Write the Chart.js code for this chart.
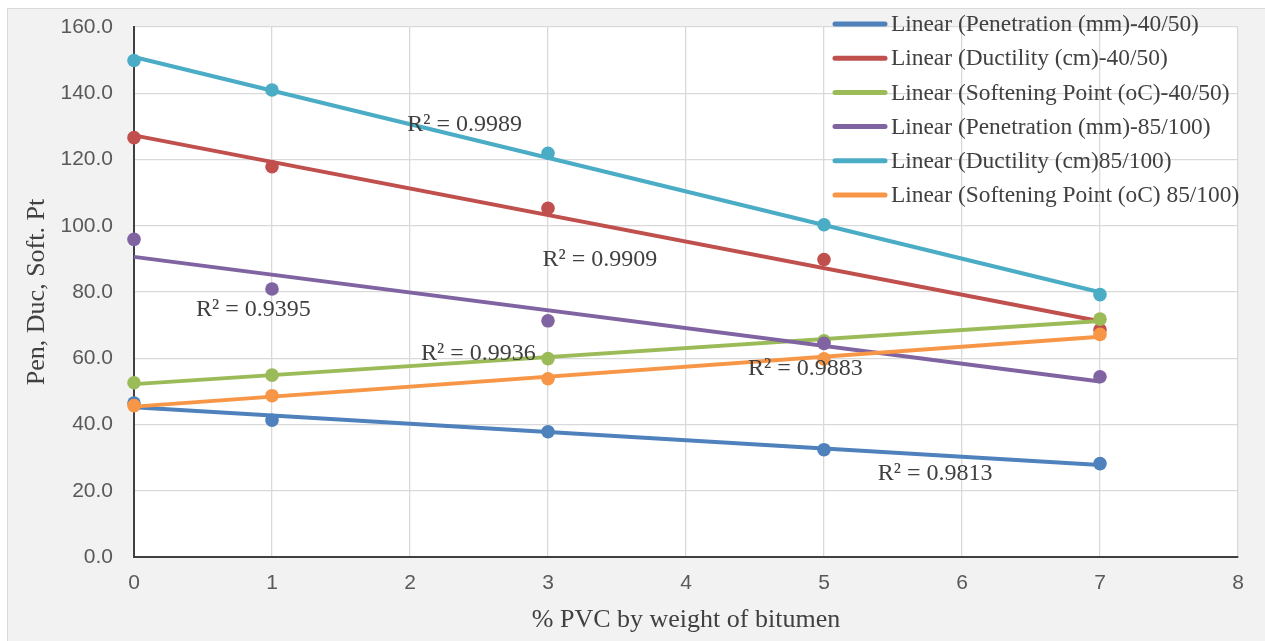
<!DOCTYPE html>
<html>
<head>
<meta charset="utf-8">
<title>PVC modified bitumen</title>
<script src="https://cdn.jsdelivr.net/npm/chart.js@4.4.1/dist/chart.umd.min.js"></script>
<style>
html, body { margin: 0; padding: 0; background: #fff; }
canvas { display: block; }
</style>
</head>
<body>
<canvas id="pvcChart" width="1265" height="641"></canvas>
<script>
// % PVC by weight of bitumen
const pvcContent = [0, 1, 3, 5, 7];

const penetration4050 = [46.5, 41.3, 37.8, 32.4, 28.2];
const ductility4050 = [126.6, 117.8, 105.3, 89.8, 68.6];
const softening4050 = [52.6, 54.9, 59.9, 65.3, 71.8];
const penetration85100 = [95.9, 80.9, 71.3, 64.5, 54.4];
const ductility85100 = [149.9, 141.0, 121.9, 100.3, 79.2];
const softening85100 = [45.7, 48.7, 53.8, 59.8, 67.2];

const seriesValues = [penetration4050, ductility4050, softening4050, penetration85100, ductility85100, softening85100];
const seriesNames = [
    'Linear (Penetration (mm)-40/50)',
    'Linear (Ductility (cm)-40/50)',
    'Linear (Softening Point (oC)-40/50)',
    'Linear (Penetration (mm)-85/100)',
    'Linear (Ductility (cm)85/100)',
    'Linear (Softening Point (oC) 85/100)',
];
const rSquaredLabels = ['R² = 0.9813', 'R² = 0.9909', 'R² = 0.9936', 'R² = 0.9395', 'R² = 0.9989', 'R² = 0.9883'];

const xTickValues = [0, 1, 2, 3, 4, 5, 6, 7, 8];
const yTickValues = [0, 20, 40, 60, 80, 100, 120, 140, 160];

const seriesColors = ['#4F81BD', '#C0504D', '#9BBB59', '#8064A2', '#4BACC6', '#F79646'];
// where each R² label sits, in axis units (left edge, vertical middle)
const rSquaredAnchorX = [5.39, 2.96, 2.08, 0.45, 1.98, 4.45];
const rSquaredAnchorY = [25.0, 89.7, 61.3, 74.6, 130.4, 56.7];

function linearFit(xs, ys) {
    const n = xs.length;
    const mx = xs.reduce((a, b) => a + b, 0) / n;
    const my = ys.reduce((a, b) => a + b, 0) / n;
    let sxy = 0, sxx = 0;
    for (let i = 0; i < n; i++) {
        sxy += (xs[i] - mx) * (ys[i] - my);
        sxx += (xs[i] - mx) * (xs[i] - mx);
    }
    const slope = sxy / sxx;
    return { slope, intercept: my - slope * mx };
}

const xFirst = Math.min(...pvcContent);
const xLast = Math.max(...pvcContent);

const datasets = [];
seriesValues.forEach((values, i) => {
    datasets.push({
        label: seriesNames[i].replace('Linear (', '').replace(/\)$/, ''),
        data: pvcContent.map((x, k) => ({ x, y: values[k] })),
        showLine: false,
        pointRadius: 6.8,
        pointBackgroundColor: seriesColors[i],
        pointBorderColor: seriesColors[i],
        pointBorderWidth: 0,
        clip: false,
        order: 5 - i,
    });
});
seriesValues.forEach((values, i) => {
    const fit = linearFit(pvcContent, values);
    datasets.push({
        label: seriesNames[i],
        data: [xFirst, xLast].map(x => ({ x, y: fit.intercept + fit.slope * x })),
        showLine: true,
        borderColor: seriesColors[i],
        borderWidth: 4,
        pointRadius: 0,
        clip: false,
        order: 20 - i,
    });
});

const chartBackdrop = {
    id: 'chartBackdrop',
    beforeDraw(chart) {
        const { ctx, width, height, chartArea } = chart;
        ctx.save();
        ctx.fillStyle = '#ffffff';
        ctx.fillRect(0, 0, width, height);
        ctx.fillStyle = '#f2f2f2';
        ctx.fillRect(7.5, 8.5, width, height);
        ctx.strokeStyle = '#d9d9d9';
        ctx.lineWidth = 1;
        ctx.strokeRect(7.5, 8.5, width, height);
        ctx.fillStyle = '#ffffff';
        ctx.fillRect(chartArea.left, chartArea.top, chartArea.right - chartArea.left, chartArea.bottom - chartArea.top);
        ctx.restore();
    },
};

const rSquaredText = {
    id: 'rSquaredText',
    afterDatasetsDraw(chart) {
        const { ctx, scales } = chart;
        ctx.save();
        ctx.font = '24px "Liberation Serif"';
        ctx.fillStyle = '#404040';
        ctx.textAlign = 'left';
        ctx.textBaseline = 'middle';
        rSquaredLabels.forEach((text, i) => {
            ctx.fillText(text, scales.x.getPixelForValue(rSquaredAnchorX[i]), scales.y.getPixelForValue(rSquaredAnchorY[i]));
        });
        ctx.restore();
    },
};

const trendLegend = {
    id: 'trendLegend',
    afterDraw(chart) {
        const { ctx } = chart;
        ctx.save();
        ctx.font = '23.4px "Liberation Serif"';
        ctx.textAlign = 'left';
        ctx.textBaseline = 'middle';
        ctx.lineCap = 'round';
        ctx.lineWidth = 5;
        seriesNames.forEach((name, i) => {
            const y = 24 + i * 34.2;
            ctx.strokeStyle = seriesColors[i];
            ctx.beginPath();
            ctx.moveTo(835, y);
            ctx.lineTo(885, y);
            ctx.stroke();
            ctx.fillStyle = '#404040';
            ctx.fillText(name, 891, y + 1);
        });
        ctx.restore();
    },
};

const tickFont = { family: '"Liberation Sans", Arial, sans-serif', size: 21 };

new Chart(document.getElementById('pvcChart'), {
    type: 'scatter',
    data: { datasets },
    options: {
        responsive: false,
        animation: false,
        layout: { padding: { top: 27, right: 27, left: 0, bottom: 0 } },
        plugins: {
            legend: { display: false },
            tooltip: { enabled: false },
        },
        scales: {
            x: {
                type: 'linear',
                min: 0,
                max: 8,
                afterBuildTicks: (scale) => { scale.ticks = xTickValues.map(v => ({ value: v })); },
                afterFit: (scale) => {
                    scale.height = 84;
                    scale.paddingLeft = 0;
                    scale.paddingRight = 0;
                },
                grid: { color: '#d9d9d9', lineWidth: 1.3, drawTicks: false },
                border: { color: '#404040', width: 2 },
                ticks: { color: '#595959', font: tickFont, padding: 14 },
                title: {
                    display: true,
                    text: '% PVC by weight of bitumen',
                    color: '#404040',
                    font: { family: '"Liberation Serif", serif', size: 26 },
                    padding: { top: 0, bottom: 5 },
                },
            },
            y: {
                type: 'linear',
                min: 0,
                max: 160,
                afterBuildTicks: (scale) => { scale.ticks = yTickValues.map(v => ({ value: v })); },
                afterFit: (scale) => {
                    scale.width = 134;
                    scale.paddingTop = 0;
                    scale.paddingBottom = 0;
                },
                grid: { color: '#d9d9d9', lineWidth: 1.3, drawTicks: false },
                border: { color: '#404040', width: 2 },
                ticks: {
                    color: '#595959',
                    font: tickFont,
                    padding: 21,
                    callback: (value) => Number(value).toFixed(1),
                },
                title: {
                    display: true,
                    text: 'Pen, Duc, Soft. Pt',
                    color: '#404040',
                    font: { family: '"Liberation Serif", serif', size: 26 },
                    padding: { top: 22, bottom: 0 },
                },
            },
        },
    },
    plugins: [chartBackdrop, rSquaredText, trendLegend],
});
</script>
</body>
</html>
